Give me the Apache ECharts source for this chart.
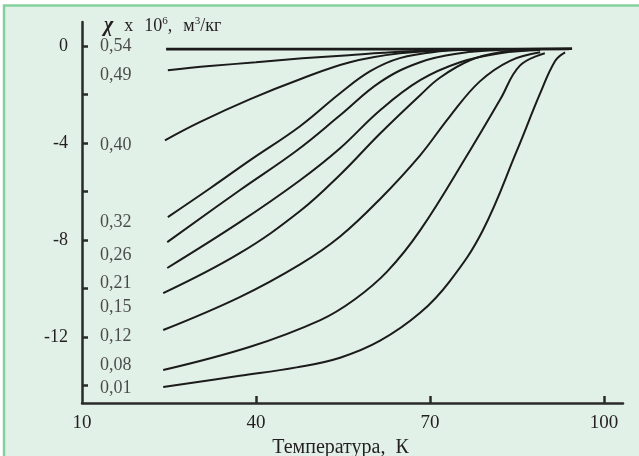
<!DOCTYPE html>
<html>
<head>
<meta charset="utf-8">
<title>chi(T)</title>
<script src="https://cdn.jsdelivr.net/npm/echarts@6/dist/echarts.min.js"></script>
<style>
    html, body {margin: 0; padding: 0; background: #fff;}
    #chart {width: 639px; height: 456px;}
</style>
</head>
<body>
<div id="chart"></div>
<script>
// curve names (field labels)
var curveNames = ["0,54", "0,49", "0,40", "0,32", "0,26", "0,21", "0,15", "0,12", "0,08", "0,01"];

// where each curve name sits on the chi axis
var labelChi = [0, -1.2, -4.09, -7.27, -8.64, -9.79, -10.79, -11.98, -13.18, -14.13];

// [T, chi]
var c054 = [[24.5, -0.12], [40, -0.12], [60, -0.12], [80, -0.12], [94.5, -0.1]];
var c049 = [[24.8, -0.99], [32, -0.82], [40, -0.66], [48, -0.5], [56, -0.37], [62, -0.27], [70, -0.18], [80, -0.14], [94, -0.12]];
var c040 = [[24.3, -3.88], [30.3, -3.13], [39, -2.18], [47.6, -1.36], [56.2, -0.66], [64.8, -0.29], [73.4, -0.16], [85, -0.12]];
var c032 = [[24.8, -7.05], [32.1, -5.86], [39, -4.7], [47.6, -3.3], [54.5, -1.94], [59.7, -1.03], [64.8, -0.49], [71.7, -0.21], [78.6, -0.12]];
var c026 = [[24.7, -8.08], [37.2, -5.94], [47.1, -4.29], [54.5, -2.85], [61.4, -1.48], [68.3, -0.66], [75.2, -0.29], [82.1, -0.16]];
var c021 = [[24.7, -9.15], [37.2, -7.26], [47.6, -5.53], [54.5, -4.21], [61.4, -2.64], [68.3, -1.4], [75.2, -0.66], [82.1, -0.29], [89, -0.16]];
var c015 = [[24, -10.19], [37.2, -8.54], [47.6, -6.8], [54.5, -5.3], [61.4, -3.6], [68.3, -2.02], [71.7, -1.3], [76.9, -0.58], [82.1, -0.25], [87.2, -0.16]];
var c012 = [[24, -11.71], [37.2, -10.35], [47.6, -9.0], [54.5, -7.85], [61.4, -6.3], [68.3, -4.5], [73.4, -2.9], [78.6, -1.45], [83.8, -0.6], [89, -0.25]];
var c008 = [[24, -13.36], [39, -12.4], [51.1, -11.3], [57, -10.45], [62.6, -9.3], [68.3, -7.6], [76.9, -4.3], [82.1, -2.2], [85.5, -0.8], [89.8, -0.29]];
var c001 = [[24, -14.06], [37.2, -13.6], [47, -13.25], [54.5, -12.85], [61.4, -12.15], [68.3, -11.0], [73.4, -9.7], [79.1, -7.6], [85, -4.3], [88.9, -2.0], [91.6, -0.6], [93.3, -0.25]];

var curves = [c054, c049, c040, c032, c026, c021, c015, c012, c008, c001];

// axis ticks
var xLabels = [10, 40, 70, 100];
var xTicks = [40, 70, 100];
var yLabels = [0, -4, -8, -12];
var yTicks = [0, -2, -4, -6, -8, -10, -12, -14];

var textColor = "#231f20";
var serif = "'Liberation Serif', 'DejaVu Serif', serif";

var chart = echarts.init(document.getElementById("chart"));

var series = curves.map(function (pts, i) {
    return {
        name: curveNames[i],
        type: "line",
        data: pts,
        showSymbol: false,
        smooth: 0.4,
        lineStyle: {color: "#1b1b1b", width: i === 0 ? 2.6 : 2},
        silent: true,
        z: 3
    };
});

// curve names next to the axis
series.push({
    type: "scatter",
    symbolSize: 0,
    silent: true,
    data: labelChi.map(function (v, i) { return [13.1, v, curveNames[i]]; }),
    label: {
        show: true,
        position: "right",
        distance: 0,
        formatter: function (p) { return p.data[2]; },
        fontFamily: serif,
        fontSize: 18,
        color: textColor
    }
});

chart.setOption({
    animation: false,
    graphic: [
        {
            type: "rect",
            z: -10,
            shape: {x: 4, y: 5.5, width: 700, height: 500},
            style: {fill: "#e2f1e7", stroke: "#85d19e", lineWidth: 2.5}
        }
    ],
    title: {
        text: "{c|χ}{p|x}{p|10}{s|6}{a|,}{p|м}{s|3}{a|/кг}",
        left: 99,
        top: 11,
        textStyle: {
            rich: {
                c: {fontFamily: serif, fontSize: 20, fontStyle: "italic", color: textColor},
                a: {fontFamily: serif, fontSize: 18, fontWeight: "normal", color: textColor},
                p: {fontFamily: serif, fontSize: 18, fontWeight: "normal", color: textColor, padding: [0, 0, 0, 11]},
                s: {fontFamily: serif, fontSize: 11, fontWeight: "normal", color: textColor, padding: [0, 0, 9, 0]}
            }
        }
    },
    grid: {left: 82, right: 16, top: 22, bottom: 53, outerBoundsMode: "none"},
    xAxis: {
        type: "value",
        min: 10,
        max: 103.28,
        name: "Температура,  К",
        nameLocation: "middle",
        nameGap: 32,
        nameTextStyle: {fontFamily: serif, fontSize: 20, color: textColor, padding: [0, 24, 0, 0]},
        splitLine: {show: false},
        axisLine: {onZero: false, lineStyle: {color: "#2a2a2a", width: 2.5}},
        axisTick: {show: true, inside: true, length: 7, customValues: xTicks, lineStyle: {color: "#2a2a2a", width: 2.5}},
        axisLabel: {customValues: xLabels, margin: 11, fontFamily: serif, fontSize: 19, color: textColor}
    },
    yAxis: {
        type: "value",
        min: -14.72,
        max: 1,
        splitLine: {show: false},
        axisLine: {show: true, onZero: false, lineStyle: {color: "#2a2a2a", width: 2.5}},
        axisTick: {show: true, inside: true, length: 6, customValues: yTicks, lineStyle: {color: "#2a2a2a", width: 2.5}},
        axisLabel: {customValues: yLabels, margin: 14, fontFamily: serif, fontSize: 18, color: textColor}
    },
    series: series
});
</script>
</body>
</html>
